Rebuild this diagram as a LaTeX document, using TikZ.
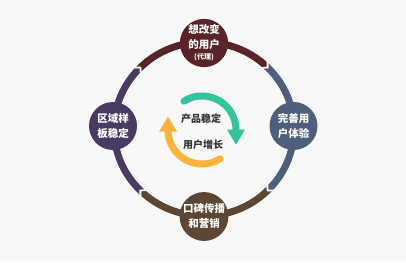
\documentclass[tikz,border=0pt]{standalone}
\usepackage{fontspec}
\setmainfont{Noto Sans CJK SC}
\usetikzlibrary{calc}
\definecolor{bgc}{HTML}{F8F8F8}
\definecolor{ctop}{HTML}{5A2327}
\definecolor{cright}{HTML}{4E5F7D}
\definecolor{cbottom}{HTML}{5C4734}
\definecolor{cleft}{HTML}{4A3B62}
\definecolor{cgreen}{HTML}{34C49C}
\definecolor{corange}{HTML}{FBB33C}
\definecolor{txt}{HTML}{333333}
\begin{document}
\begin{tikzpicture}[x=1pt,y=1pt,
  stage/.style={circle, minimum size=48pt, inner sep=0pt, text=white,
    font=\bfseries\fontsize{10.5}{15}\selectfont, align=center},
  ring/.style={line width=7pt},
  cut/.style={draw=bgc, line width=1.8pt, line join=miter},
  flow/.style={line width=7pt, line cap=round},
  lbl/.style={text=txt, font=\bfseries\fontsize{10}{12}\selectfont}]
\fill[bgc] (0,0) rectangle (406,262);
\useasboundingbox (0,0) rectangle (406,262);
\coordinate (O) at (204,133);
% ring segments
\draw[ring, ctop] ($(O)+(45:90 and 87)$) arc[start angle=45, end angle=135, x radius=90, y radius=87];
\draw[ring, cright] ($(O)+(-45:90 and 87)$) arc[start angle=-45, end angle=45, x radius=90, y radius=87];
\draw[ring, cbottom] ($(O)+(-135:90 and 87)$) arc[start angle=-135, end angle=-45, x radius=90, y radius=87];
\draw[ring, cleft] ($(O)+(135:90 and 87)$) arc[start angle=135, end angle=225, x radius=90, y radius=87];
% chevron cuts (clockwise flow)
\foreach \t in {45,-45,-135,135}{
  \draw[cut] ($(O)+(\t+3:95 and 92)$) -- ($(O)+(\t:90 and 87)$) -- ($(O)+(\t+3:85 and 82)$);
}
% stage nodes
\node[stage, fill=ctop] (n1) at (204,219) {想改变\\的用户\\[-4pt]{\fontsize{7}{8}\selectfont (代理)}};
\node[stage, fill=cright] (n2) at (293.5,136) {完善用\\户体验};
\node[stage, fill=cbottom] (n3) at (204,45.5) {口碑传播\\和营销};
\node[stage, fill=cleft] (n4) at (113,136) {区域样\\板稳定};
% center cycle
\coordinate (C) at (202,132);
\draw[flow, cgreen] ($(C)+(122:34)$) arc[start angle=122, end angle=-1, radius=34] coordinate (ge);
\fill[cgreen] ($(ge)+(-9,1)$) -- ($(ge)+(9,1)$) -- ($(ge)+(0,-14)$) -- cycle;
\draw[flow, corange] ($(C)+(-58:34)$) arc[start angle=-58, end angle=-179, radius=34] coordinate (oe);
\fill[corange] ($(oe)+(-9,-1)$) -- ($(oe)+(9,-1)$) -- ($(oe)+(0,14)$) -- cycle;
\node[lbl] (t1) at (201,143) {产品稳定};
\node[lbl] (t2) at (203,117) {用户增长};
\end{tikzpicture}
\end{document}
